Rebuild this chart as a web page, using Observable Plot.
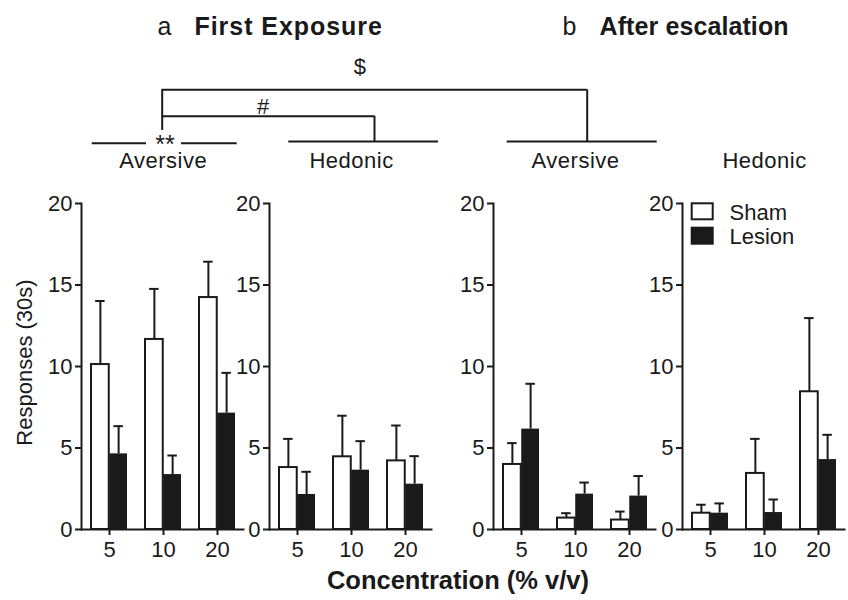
<!DOCTYPE html>
<html>
<head>
<meta charset="utf-8">
<script src="https://cdn.jsdelivr.net/npm/d3@7"></script>
<script src="https://cdn.jsdelivr.net/npm/@observablehq/plot@0.6"></script>
<style>
  body { margin: 0; background: #fff; }
  #root { position: relative; width: 848px; height: 600px; overflow: hidden;
          font-family: "Liberation Sans", Arial, Helvetica, sans-serif; color: #1a1a1a; }
  #root > svg { position: absolute; top: 0; left: 0; overflow: visible; }
</style>
</head>
<body>
<div id="root"></div>
<script>
// ---------------- DATA ----------------
const concentrations = ["5", "10", "20"];
const groups = ["Sham", "Lesion"];
const phases = ["First Exposure", "After escalation"];
const panelNames = ["Aversive", "Hedonic", "Aversive", "Hedonic"];

// mean responses per 30 s, one row per panel, one value per concentration
const shamMean   = [[10.12, 11.66, 14.23], [3.80, 4.46, 4.21], [3.99, 0.70, 0.58], [1.00, 3.44, 8.45]];
const shamSEM    = [[3.90, 3.10, 2.20],    [1.76, 2.52, 2.17], [1.31, 0.30, 0.52], [0.52, 2.12, 4.52]];
const lesionMean = [[4.64, 3.37, 7.14],    [2.15, 3.64, 2.78], [6.16, 2.17, 2.05], [1.00, 1.04, 4.29]];
const lesionSEM  = [[1.70, 1.17, 2.47],    [1.39, 1.78, 1.72], [2.78, 0.71, 1.23], [0.60, 0.80, 1.52]];
const yTicks = [0, 5, 10, 15, 20];
const significance = ["$", "#", "**"];

// ---------------- LAYOUT ----------------
const FONT = '"Liberation Sans", Arial, Helvetica, sans-serif';
const INK = "#1a1a1a";
const panelLeft = [81, 269.3, 493.3, 682.3];   // x of each panel's y axis
const innerW = 163.5, ML = 60, MR = 8, MT = 23, MB = 45, TOP = 180, H = 394;
const band = innerW / concentrations.length;
const barW = 18.25, half = band / 2, off = barW / 2, capHalf = 5;

const root = document.getElementById("root");

function panel(i) {
  const rows = concentrations.map((c, j) => ({
    conc: c,
    sham: shamMean[i][j], shamTop: shamMean[i][j] + shamSEM[i][j],
    lesion: lesionMean[i][j], lesionTop: lesionMean[i][j] + lesionSEM[i][j]
  }));
  const svg = Plot.plot({
    width: ML + innerW + MR, height: H,
    marginLeft: ML, marginRight: MR, marginTop: MT, marginBottom: MB,
    style: { background: "transparent", fontFamily: FONT, fontSize: "22px", color: INK, overflow: "visible" },
    x: { domain: concentrations, padding: 0, label: null, axis: null },
    y: { domain: [0, 20], label: null, axis: null },
    marks: [
      Plot.ruleX(rows, { x: "conc", y1: "sham", y2: "shamTop", dx: -off, stroke: INK, strokeWidth: 2 }),
      Plot.tickY(rows, { x: "conc", y: "shamTop", dx: -off, insetLeft: half - capHalf, insetRight: half - capHalf, stroke: INK, strokeWidth: 2 }),
      Plot.ruleX(rows, { x: "conc", y1: "lesion", y2: "lesionTop", dx: off, stroke: INK, strokeWidth: 2 }),
      Plot.tickY(rows, { x: "conc", y: "lesionTop", dx: off, insetLeft: half - capHalf, insetRight: half - capHalf, stroke: INK, strokeWidth: 2 }),
      Plot.barY(rows, { x: "conc", y: "sham", fill: "white", stroke: INK, strokeWidth: 2,
                        insetLeft: half - barW, insetRight: half }),
      Plot.barY(rows, { x: "conc", y: "lesion", fill: INK, insetLeft: half, insetRight: half - barW }),
      Plot.ruleY([0], { stroke: INK, strokeWidth: 2 }),
      Plot.frame({ anchor: "left", stroke: INK, strokeWidth: 2 }),
      Plot.axisY({ ticks: yTicks, tickSize: 6, tickPadding: 3, fontSize: 22, stroke: INK, strokeWidth: 2, label: null }),
      Plot.axisX({ tickSize: 6, tickPadding: 6, fontSize: 22, stroke: INK, strokeWidth: 2, label: null })
    ]
  });
  svg.style.left = (panelLeft[i] - ML) + "px";
  svg.style.top = TOP + "px";
  root.appendChild(svg);
}
panelLeft.forEach((_, i) => panel(i));

// ---------------- ANNOTATION LAYER ----------------
const hLines = [
  { x1: 91.7, x2: 146, y: 142.7 }, { x1: 181, x2: 236.7, y: 142.7 },   // Aversive (a), split by **
  { x1: 288.3, x2: 438, y: 141 },                                       // Hedonic (a)
  { x1: 506.7, x2: 656.7, y: 141 },                                     // Aversive (b)
  { x1: 161.7, x2: 586.7, y: 89.3 },                                    // $ bracket
  { x1: 161.7, x2: 374, y: 115.7 }                                      // # bracket
];
const vLines = [
  { x: 161.7, y1: 89.3, y2: 130 },
  { x: 586.7, y1: 89.3, y2: 141 },
  { x: 374, y1: 115.7, y2: 141 }
];
const sigPos = [
  { x: 359.3, y: 66.5, size: 22 },
  { x: 262.7, y: 106.5, size: 22 },
  { x: 164.5, y: 148.5, size: 25 }
];
const titles = [
  { x: 157, y: 26.3, text: "a", weight: "normal", ls: 0 },
  { x: 194, y: 26.3, text: phases[0], weight: "bold", ls: 0.95 },
  { x: 562, y: 26.3, text: "b", weight: "normal", ls: 0 },
  { x: 599, y: 26.3, text: phases[1], weight: "bold", ls: 0.1 }
];
const groupLabelRows = panelNames.map((t, i) => ({ x: panelLeft[i] + innerW / 2, y: 160.5, text: t }));
const legendRows = groups.map((g, i) => ({ g, x1: 691.7, x2: 712.7, y1: 203.3 + i * 24.4, y2: 219.3 + i * 24.4 }));

const overlay = Plot.plot({
  width: 848, height: 600, margin: 0,
  style: { background: "transparent", fontFamily: FONT, color: INK, overflow: "visible" },
  x: { type: "identity", axis: null }, y: { type: "identity", axis: null },
  marks: [
    Plot.ruleY(hLines, { x1: "x1", x2: "x2", y: "y", stroke: INK, strokeWidth: 2 }),
    Plot.ruleX(vLines, { x: "x", y1: "y1", y2: "y2", stroke: INK, strokeWidth: 2 }),
    Plot.text(sigPos.slice(0, 2), { x: "x", y: "y", text: (d, i) => significance[i], fontSize: 22, fill: INK }),
    Plot.text(sigPos.slice(2), { x: "x", y: "y", text: () => significance[2], fontSize: 25, fill: INK, lineHeight: 0.5 }),
    Plot.text(titles.filter(d => d.weight === "normal"), { x: "x", y: "y", text: "text", textAnchor: "start", fontSize: 25, fill: INK }),
    Plot.text(titles.filter(d => d.weight === "bold"), { x: "x", y: "y", text: "text", textAnchor: "start", fontSize: 25, fontWeight: "bold", fill: INK }),
    Plot.text(groupLabelRows, { x: "x", y: "y", text: "text", fontSize: 22, fill: INK }),
    Plot.text(["Responses (30s)"], { x: 24, y: 362, text: d => d, rotate: -90, fontSize: 22, fill: INK }),
    Plot.text(["Concentration (% v/v)"], { x: 457.5, y: 580, text: d => d, fontSize: 25.5, fontWeight: "bold", fill: INK }),
    Plot.rect(legendRows, { x1: "x1", x2: "x2", y1: "y1", y2: "y2", fill: d => d.g === "Sham" ? "white" : INK, stroke: INK, strokeWidth: 2 }),
    Plot.text(legendRows, { x: 729, y: d => (d.y1 + d.y2) / 2 + 1, text: "g", textAnchor: "start", fontSize: 22, fill: INK })
  ]
});
root.appendChild(overlay);

// letter spacing tweaks for text to match the reference widths
d3.select(overlay).selectAll("text").each(function () {
  const t = this.textContent;
  const title = titles.find(d => d.text === t);
  if (title && title.ls) this.setAttribute("letter-spacing", title.ls);
  if (panelNames.includes(t)) this.setAttribute("letter-spacing", 0.5);
});
</script>
</body>
</html>
